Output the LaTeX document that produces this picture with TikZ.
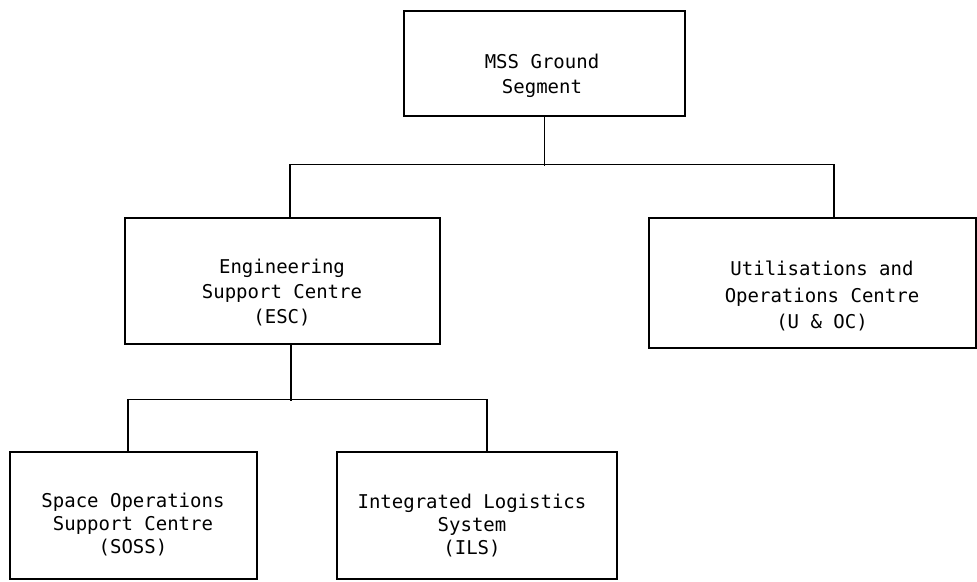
\documentclass[tikz,border=0pt]{standalone}
\usepackage{fontspec}
\setmonofont{DejaVu Sans Mono}
\begin{document}
\begin{tikzpicture}[x=1pt,y=-1pt,
  box/.style={draw, line width=1.8pt, rectangle, inner sep=0pt},
  lbl/.style={font=\ttfamily\fontsize{19}{25}\selectfont, align=center, anchor=north, inner sep=0pt},
  tight/.style={font=\ttfamily\fontsize{19}{23}\selectfont},
  wire/.style={line width=1.2pt}]
\useasboundingbox[fill=white] (0,0) rectangle (977,581);

% organisation boxes
\node[box, minimum width=281pt, minimum height=105pt] (mss)  at (544.5,63.5) {};
\node[box, minimum width=315pt, minimum height=126pt] (esc)  at (282.5,281)  {};
\node[box, minimum width=327pt, minimum height=130pt] (uoc)  at (812.5,283)  {};
\node[box, minimum width=247pt, minimum height=127pt] (soss) at (133.5,515.5) {};
\node[box, minimum width=280pt, minimum height=127pt] (ils)  at (477,515.5)  {};

% box captions
\node[lbl] (msst)  at (542,54)  {MSS Ground\\ Segment};
\node[lbl] (esct)  at (282,259) {Engineering\\Support Centre\\(ESC)};
\node[lbl, font=\ttfamily\fontsize{19}{26.5}\selectfont] (uoct) at (822,261) {Utilisations and\\Operations Centre\\(U \& OC)};
\node[lbl, tight] (sosst) at (133,493) {Space Operations\\Support Centre\\(SOSS)};
\node[lbl, tight] (ilst)  at (472,494) {Integrated Logistics\\System\\(ILS)};

% tree connectors
\draw[wire] (mss.south) -- ++(0,49);
\draw[wire] ([xshift=7.5pt]esc.north) -- ++(0,-53) -| ([xshift=21.5pt]uoc.north);
\draw[wire] ([xshift=8.5pt]esc.south) -- ++(0,56);
\draw[wire] ([xshift=-5.5pt]soss.north) -- ++(0,-52) -| ([xshift=10pt]ils.north);
\end{tikzpicture}
\end{document}
